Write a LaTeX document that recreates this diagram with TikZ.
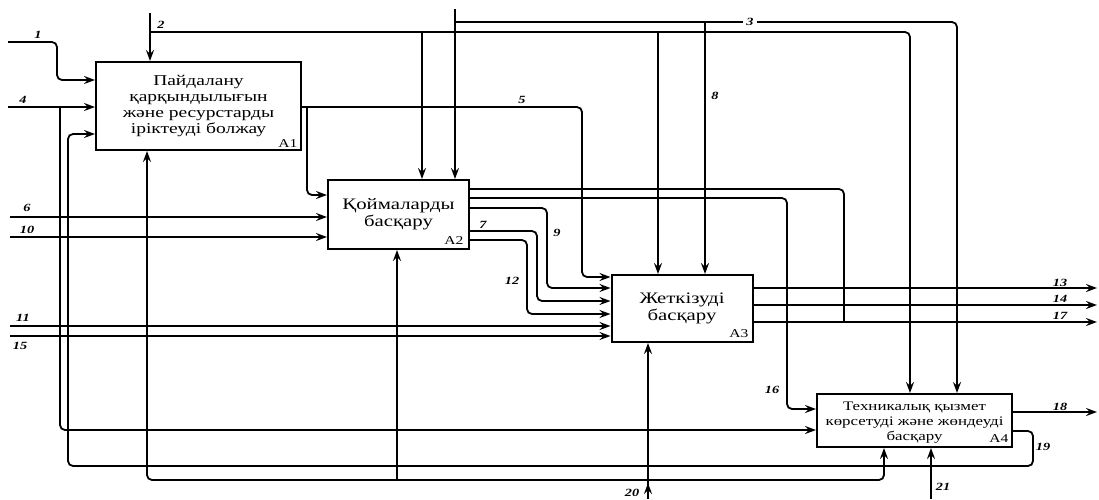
\documentclass[tikz,border=0pt]{standalone}
\usepackage{fontspec}
\setmainfont{Liberation Serif}[FakeStretch=1.3]
\usetikzlibrary{arrows.meta}
\begin{document}
\begin{tikzpicture}[x=1pt,y=-1pt,
  fbox/.style={draw,line width=2pt,inner sep=0pt,align=center},
  btext/.style={align=center,inner sep=0pt},
  cn/.style={line width=1.8pt,rounded corners=5pt},
  ar/.style={cn,-{Stealth[length=11pt,width=8pt,inset=4pt]}},
  lbl/.style={font=\bfseries\itshape\fontsize{11}{11}\selectfont,inner sep=1pt},
  boxid/.style={font=\fontsize{12}{12}\selectfont,inner sep=0pt}]
\useasboundingbox (0,0) rectangle (1099,499);
% boxes
\node[fbox,minimum width=205pt,minimum height=88pt,font=\fontsize{15}{16.3}\selectfont] (A1) at (198.5,106)
  {Пайдалану\\қарқындылығын\\және ресурстарды\\іріктеуді болжау};
\node[fbox,minimum width=141pt,minimum height=69pt,font=\fontsize{16}{17}\selectfont] (A2) at (398.5,214.5)
  {Қоймаларды\\басқару};
\node[fbox,minimum width=141pt,minimum height=67pt,font=\fontsize{16}{17}\selectfont] (A3) at (682,308.5)
  {Жеткізуді\\басқару};
\node[fbox,minimum width=195pt,minimum height=53pt] (A4) at (914.5,420.5) {};
\node[btext,font=\fontsize{13}{15}\selectfont] (A4t) at (914.5,423)
  {Техникалық қызмет\\көрсетуді және жөндеуді\\басқару};
\node[boxid] (idA1) at (288,144) {A1};
\node[boxid] (idA2) at (454,241) {A2};
\node[boxid] (idA3) at (739,334) {A3};
\node[boxid] (idA4) at (999,439) {A4};
% free ends
\coordinate (s1) at (8,42);
\coordinate (s4) at (8,107);
\coordinate (s2) at (150,13);
\coordinate (s3) at (455,9);
\coordinate (s6) at (10,217);
\coordinate (s10) at (10,237);
\coordinate (s11) at (10,326);
\coordinate (s15) at (10,336);
\coordinate (e13) at (1097,288);
\coordinate (e14) at (1097,305);
\coordinate (e17) at (1097,322);
\coordinate (e18) at (1097,412);
\coordinate (s20) at (648,499);
\coordinate (s21) at (931,499);
% inputs to A1
\draw[ar] (s1) -- (57,42) -- (57,80) -- (A1.west |- 0,80);
\draw[ar] (s4) -- (A1.west |- 0,107);
\draw[ar] (60,107) -- (60,430) -- (A4.west |- 0,430);
% control 2
\draw[ar] (s2) -- (150,0 |- A1.north);
\draw[ar] (150,32) -- (910,32) -- (910,0 |- A4.north);
\draw[ar] (422,32) -- (422,0 |- A2.north);
\draw[ar] (658,32) -- (658,0 |- A3.north);
% control 3
\draw[ar] (s3) -- (455,0 |- A2.north);
\draw[ar] (455,22) -- (957,22) -- (957,0 |- A4.north);
\draw[ar] (705,22) -- (705,0 |- A3.north);
% A1 outputs
\draw[ar] (A1.east |- 0,107) -- (582,107) -- (582,277) -- (A3.west |- 0,277);
\draw[ar] (307,107) -- (307,195) -- (A2.west |- 0,195);
% inputs to A2
\draw[ar] (s6) -- (A2.west |- s6);
\draw[ar] (s10) -- (A2.west |- s10);
% A2 outputs
\draw[cn] (A2.east |- 0,189) -- (844,189) -- (844,322);
\draw[ar] (A2.east |- 0,198) -- (787,198) -- (787,409) -- (A4.west |- 0,409);
\draw[ar] (A2.east |- 0,208) -- (547,208) -- (547,288) -- (A3.west |- 0,288);
\draw[ar] (A2.east |- 0,231) -- (537,231) -- (537,301) -- (A3.west |- 0,301);
\draw[ar] (A2.east |- 0,240) -- (527,240) -- (527,314) -- (A3.west |- 0,314);
% inputs to A3
\draw[ar] (s11) -- (A3.west |- s11);
\draw[ar] (s15) -- (A3.west |- s15);
% A3 outputs
\draw[ar] (A3.east |- e13) -- (e13);
\draw[ar] (A3.east |- e14) -- (e14);
\draw[ar] (A3.east |- e17) -- (e17);
% A3 mechanism
\draw[ar] (s20) -- (648,0 |- A3.south);
\draw[ar] (s20) -- (648,483);
% A4 outputs
\draw[ar] (A4.east |- e18) -- (e18);
\draw[ar] (A4.east |- 0,431) -- (1033,431) -- (1033,466) -- (68,466) -- (68,134) -- (A1.west |- 0,134);
% bottom line
\draw[ar] (397,480) -- (147,480) -- (147,0 |- A1.south);
\draw[ar] (397,480) -- (884,480) -- (884,0 |- A4.south);
\draw[ar] (397,480) -- (397,0 |- A2.south);
\draw[ar] (s21) -- (931,0 |- A4.south);
% labels
\node[lbl] (l1) at (38,35) {1};
\node[lbl] (l2) at (161,25) {2};
\node[lbl,fill=white,inner xsep=3pt] (l3) at (750,22) {3};
\node[lbl] (l4) at (23,100) {4};
\node[lbl] (l5) at (522,100) {5};
\node[lbl] (l6) at (27,208) {6};
\node[lbl] (l7) at (483,225) {7};
\node[lbl] (l8) at (715,96) {8};
\node[lbl] (l9) at (557,233) {9};
\node[lbl] (l10) at (27,230) {10};
\node[lbl] (l11) at (23,318) {11};
\node[lbl] (l12) at (512,281) {12};
\node[lbl] (l13) at (1060,283) {13};
\node[lbl] (l14) at (1060,299) {14};
\node[lbl] (l15) at (20,346) {15};
\node[lbl] (l16) at (772,390) {16};
\node[lbl] (l17) at (1060,316) {17};
\node[lbl] (l18) at (1060,407) {18};
\node[lbl] (l19) at (1043,447) {19};
\node[lbl] (l20) at (632,493) {20};
\node[lbl] (l21) at (943,487) {21};
\end{tikzpicture}
\end{document}
